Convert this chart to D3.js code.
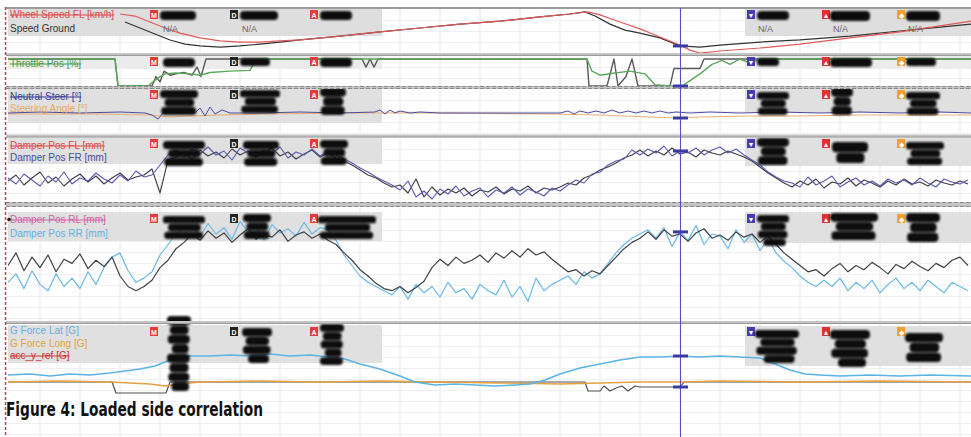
<!DOCTYPE html>
<html><head><meta charset="utf-8">
<script src="https://cdn.jsdelivr.net/npm/d3@7/dist/d3.min.js"></script>
<style>
html,body{margin:0;padding:0;background:#fff;overflow:hidden}
svg{display:block}
</style></head><body>
<svg id="chart" width="971" height="437"></svg>
<script>
// ---------------- DATA ----------------
// Panel 1: speed [km/h] vs distance [m]
const wheelSpeedDist = [120,135,150,165,180,200,220,240,260,280,300,340,380,420,460,500,540,570,588,600,620,640,660,680,690,700,720,760,800,850,900,940,971];
const wheelSpeedFL   = [234,225,199,173,151,130,117,112,112,117,121,138,156,173,190,203,221,234,243,230,199,169,134,99,77,64,73,86,103,130,156,182,203];
const groundSpeedDist= [125,140,155,170,185,200,220,240,260,280,300,340,380,420,460,500,540,570,585,595,610,625,640,660,680,700,720,760,800,850,900,940,971];
const speedGround    = [199,173,147,121,103,95,90,95,103,112,121,138,156,173,190,203,221,234,243,225,190,164,151,130,95,90,99,112,121,138,160,177,190];

// Panel 2: throttle [%]
const throttleDist   = [8,115,118,148,158,165,175,190,200,210,230,250,256,587,592,600,615,630,645,655,670,682,690,700,712,722,730,740,750,760,971];
const throttlePos    = [100,100,0,0,30,45,48,45,40,50,55,58,100,100,55,40,48,55,45,5,0,0,20,45,80,95,80,100,85,100,100];
const throttleRefDist= [8,115,118,152,156,160,164,170,176,184,192,197,201,206,362,366,370,374,378,587,589,607,614,618,626,632,638,670,674,700,704,971];
const throttleRef    = [100,100,0,0,35,15,55,40,45,50,40,70,35,100,100,70,100,70,100,100,0,0,100,0,35,100,0,0,65,65,100,100];

// Panel 3: neutral steer / steering angle [deg]
const neutralDist    = [8,40,80,120,145,152,158,163,170,178,186,195,200,205,210,215,222,230,260,300,340,375,380,385,390,395,400,410,420,440,480,520,560,568,574,580,588,596,604,612,620,628,636,644,652,660,668,676,690,710,740,780,820,860,900,940,971];
const neutralSteer   = [0,1,0,1,0,-2,-6,0,3,1,4,0,5,-3,6,-1,3,0,0,1,0,1,3,-1,3,0,2,0,1,0,0,0,0,2,-1,2,0,2,0,3,0,2,0,2,0,2,0,1,0,1,0,1,0,1,0,1,0];
const steerDist      = [8,100,150,170,190,220,260,350,450,550,600,650,680,700,750,800,850,900,971];
const steerAngle     = [-1,-1,-2,-4,-3,-2,-1,0,0,-1,-2,-4,-5,-4,-3,-3,-2,-2,-2];

// Panels 4-5: dampers [mm], sampled every 8 m from 8 m
const damperStart = 8, damperStep = 8;
const damperFL = [24,30,20,27,33,22,28,19,26,31,23,29,21,27,32,25,28,30,
 36,12,45,48,
 52,46,55,49,53,47,56,50,54,48,52,57,49,53,46,51,55,48,52,
 47,44,40,35,30,27,22,18,20,12,26,
 8,18,10,16,12,17,9,15,13,18,11,16,14,19,12,17,15,
 18,22,20,27,30,35,38,42,47,50,
 55,49,54,50,57,51,53,48,55,52,50,54,51,
 48,44,38,32,27,22,
 18,24,20,26,17,23,21,27,19,25,22,18,24,20,26,21,23,19,25,22,20,24,21];
const damperFR = [27,21,31,25,19,29,23,33,21,27,24,32,26,22,30,24,34,28,
 30,40,50,55,
 48,56,51,58,50,54,45,57,52,49,55,51,58,47,53,50,56,49,54,
 50,46,42,37,33,28,24,20,15,24,8,
 14,6,16,11,19,9,14,17,8,15,12,18,10,16,13,9,17,
 14,20,25,22,31,33,40,44,46,55,
 50,56,52,59,49,54,52,57,50,55,58,52,56,
 50,45,40,33,28,24,
 22,18,28,20,24,29,18,23,27,20,24,19,26,22,25,20,27,22,18,26,23,21,25];
const damperRL = [50,62,45,58,48,60,44,56,52,61,47,55,49,58,
 40,30,26,30,
 36,48,55,66,72,
 80,74,83,76,81,72,79,85,75,80,77,84,73,79,82,76,80,74,
 70,62,55,46,40,33,28,
 26,30,24,29,35,
 48,56,50,58,52,55,60,53,62,57,64,58,66,60,63,56,
 50,44,46,40,45,42,
 50,58,66,72,76,
 82,75,84,78,80,73,81,85,76,79,74,82,77,80,72,78,
 70,62,56,50,44,46,40,
 47,52,44,50,46,53,48,42,51,47,54,49,45,52,48,55,58,50];
const damperRR = [34,42,28,45,32,26,42,30,38,28,44,32,48,58,
 62,45,34,38,
 44,60,70,80,86,
 88,78,90,80,86,75,92,82,87,74,89,81,85,78,91,80,86,84,
 74,60,50,40,34,30,26,
 22,30,18,32,24,
 30,20,34,24,28,18,32,26,22,36,20,30,16,38,26,32,
 36,40,32,44,38,42,
 52,62,70,76,80,
 84,76,86,68,82,74,88,70,80,78,66,84,72,80,64,76,
 62,54,48,40,34,30,36,
 30,38,26,34,28,36,24,32,38,28,34,26,36,30,24,34,30,26];

// Panel 6: G forces [G]
const gLatDist  = [8,30,50,70,90,110,125,140,155,165,175,190,210,230,250,270,290,310,330,345,360,380,400,415,435,455,475,495,515,530,545,560,580,600,620,640,660,680,700,720,740,760,775,790,805,820,840,870,900,930,971];
const gForceLat = [0.35,0.4,0.3,0.4,0.35,0.45,0.55,0.65,0.8,1.0,1.2,1.3,1.3,1.35,1.3,1.4,1.3,1.35,1.25,1.15,0.9,0.65,0.3,0.0,-0.15,-0.1,-0.15,-0.2,-0.15,-0.1,0.1,0.4,0.7,0.9,1.1,1.25,1.25,1.3,1.25,1.3,1.25,1.2,0.9,0.6,0.4,0.35,0.3,0.35,0.3,0.35,0.3];
const gLongDist = [8,60,110,130,150,165,180,200,260,320,380,440,500,560,600,640,680,720,800,880,971];
const gForceLong= [0,0.05,0,-0.05,-0.1,-0.2,-0.1,0,0.05,0,0.05,0,-0.05,-0.1,-0.05,0,0,0.05,0,0.05,0];
const gLongRefDist = [8,112,116,166,170,585,588,600,604,610,616,622,628,635,640,680,684,971];
const gLongRef     = [0,0,-0.55,-0.55,0,0,-0.45,-0.45,-0.2,-0.45,-0.3,-0.2,-0.45,-0.2,-0.25,-0.25,0,0];

const cursorDist = 680;

// Legend labels
const legendLabels = [
  [["Wheel Speed FL [km/h]","#e04848",true],["Speed Ground","#333333",false]],
  [["Throttle Pos [%]","#4a9a4a",true]],
  [["Neutral Steer [°]","#3a3a9a",true],["Steering Angle [°]","#e8a860",false]],
  [["Damper Pos FL [mm]","#e04848",true],["Damper Pos FR [mm]","#4a4aa0",false]],
  [["Damper Pos RL [mm]","#d060a0",true],["Damper Pos RR [mm]","#60b0e0",false]],
  [["G Force Lat [G]","#60b0e0",false],["G Force Long [G]","#e0a040",false],["acc_y_ref [G]","#d03030",true]]
];
const leftMarkers  = [["M","#e53a3a"],["D","#222222"],["A","#e53a3a"]];
const rightMarkers = [["▼","#4a3ab0"],["▲","#e03030"],["◆","#f0a030"]];
const naText = "N/A";
const caption = "Figure 4: Loaded side correlation";

// ---------------- LAYOUT ----------------
const svg = d3.select("#chart");
const x = d3.scaleLinear().domain([0, 971]).range([0, 971]);

const panels = [
  {top:9,   bottom:53,  y:d3.scaleLinear().domain([60,260]).range([54,8]),     boxL:[9,27],   boxR:[9,27],   labelY:[18,32],      markY:10,  boxFill:"#dedede"},
  {top:56,  bottom:86,  y:d3.scaleLinear().domain([0,100]).range([86,59]),     boxL:[56,13],  boxR:[56,13],  labelY:[67],         markY:57,  boxFill:"#ececec"},
  {top:89,  bottom:134, y:d3.scaleLinear().domain([-20,20]).range([133,93]),   boxL:[89,34],  boxR:[89,24],  labelY:[100,112],    markY:90,  boxFill:"#e0e0e0"},
  {top:138, bottom:202, y:d3.scaleLinear().domain([0,65]).range([205,140]),    boxL:[138,26], boxR:[138,28], labelY:[149,161],    markY:139, boxFill:"#e0e0e0"},
  {top:208, bottom:321, y:d3.scaleLinear().domain([0,100]).range([318,213]),   boxL:[212,29], boxR:[212,31], labelY:[223,237],    markY:214, boxFill:"#e0e0e0"},
  {top:324, bottom:437, y:d3.scaleLinear().domain([-2.75,2.75]).range([437,327]), boxL:[325,38], boxR:[326,40], labelY:[334,347,359], markY:327, boxFill:"#e0e0e0"}
];

const redactions = [
  [[160,11,36,8],[240,11,38,8],[320,11,32,8],[757,11,32,8],[830,11,40,9],[906,11,34,9]],
  [[163,58,32,8],[240,58,30,7],[320,58,32,8],[757,58,22,7],[830,58,42,8],[906,58,30,7]],
  [[160,90,38,24],[240,90,40,22],[320,88,26,26],[757,92,32,22],[831,88,22,26],[906,92,34,22]],
  [[163,141,42,24],[243,141,36,24],[320,140,28,24],[757,138,32,26],[832,142,36,20],[906,142,38,22]],
  [[163,216,42,22],[243,214,28,24],[318,216,58,22],[757,215,32,30],[830,213,48,26],[906,213,34,28]],
  [[167,316,24,74],[242,328,30,34],[320,324,24,40],[755,330,44,32],[830,330,40,36],[905,333,38,28]]
];
const rowWidths = [1, 0.78, 0.92, 0.7, 0.95, 0.8, 0.88, 0.74, 1];
const rowShift  = [0, 0.12, 0.03, 0.2, 0.0, 0.1, 0.05, 0.18, 0];

const defs = svg.append("defs");
defs.append("filter").attr("id","blur").append("feGaussianBlur").attr("stdDeviation",1.1);
panels.forEach((p,i)=>{
  defs.append("clipPath").attr("id","clip"+i).append("rect")
    .attr("x",x(6)).attr("y",p.top).attr("width",x(971)-x(6)).attr("height",p.bottom-p.top);
});

// background
svg.append("rect").attr("width",971).attr("height",437).attr("fill","#ffffff");

// grid
const grid = svg.append("g");
const gridX = d3.range(40, 971, 40);
panels.forEach(p=>{
  grid.selectAll(null).data(gridX).enter().append("line")
    .attr("x1",d=>x(d)).attr("x2",d=>x(d)).attr("y1",p.top).attr("y2",p.bottom)
    .attr("stroke","#e6e6ea").attr("stroke-width",1);
  grid.selectAll(null).data(d3.range(p.top+11, p.bottom, 11)).enter().append("line")
    .attr("x1",x(6)).attr("x2",x(971)).attr("y1",d=>d+0.5).attr("y2",d=>d+0.5)
    .attr("stroke","#f0f0f2").attr("stroke-width",1);
});

// legend boxes
const boxes = svg.append("g");
panels.forEach(p=>{
  boxes.append("rect").attr("x",x(8)).attr("y",p.boxL[0]).attr("width",x(382)-x(8)).attr("height",p.boxL[1]).attr("fill",p.boxFill);
  boxes.append("rect").attr("x",x(745)).attr("y",p.boxR[0]).attr("width",x(971)-x(745)).attr("height",p.boxR[1]).attr("fill",p.boxFill);
});

// series
const damperDist = damperFL.map((_,i)=>damperStart + i*damperStep);
const series = [
  {p:0, xs:groundSpeedDist, vs:speedGround,  c:"#333333", w:1.2},
  {p:0, xs:wheelSpeedDist,  vs:wheelSpeedFL, c:"#e05a5a", w:1.2},
  {p:1, xs:throttleRefDist, vs:throttleRef,  c:"#5a5a5a", w:1.4},
  {p:1, xs:throttleDist,    vs:throttlePos,  c:"#5aa85a", w:1.4},
  {p:2, xs:steerDist,       vs:steerAngle,   c:"#e8b070", w:1.2},
  {p:2, xs:neutralDist,     vs:neutralSteer, c:"#4a4aa0", w:1.0},
  {p:3, xs:damperDist,      vs:damperFL,     c:"#3c3c46", w:1.1},
  {p:3, xs:damperDist,      vs:damperFR,     c:"#5a5ab0", w:1.1},
  {p:4, xs:damperDist,      vs:damperRR,     c:"#6ab8e6", w:1.2},
  {p:4, xs:damperDist,      vs:damperRL,     c:"#404048", w:1.2},
  {p:5, xs:gLongRefDist,    vs:gLongRef,     c:"#505050", w:1.2},
  {p:5, xs:gLongDist,       vs:gForceLong,   c:"#e6a040", w:1.4},
  {p:5, xs:gLatDist,        vs:gForceLat,    c:"#5ab4e4", w:1.6}
];
const lines = svg.append("g");
series.forEach(s=>{
  const p = panels[s.p];
  const line = d3.line().x(d=>x(d[0])).y(d=>p.y(d[1]));
  lines.append("path").attr("clip-path","url(#clip"+s.p+")")
    .attr("d", line(s.xs.map((d,i)=>[d, s.vs[i]])))
    .attr("fill","none").attr("stroke",s.c).attr("stroke-width",s.w).attr("stroke-linejoin","round");
});

// legend labels and markers
const leg = svg.append("g").attr("font-family","'Liberation Sans', Arial, sans-serif").attr("font-size",10);
panels.forEach((p,i)=>{
  legendLabels[i].forEach((l,j)=>{
    leg.append("text").attr("x",x(10)).attr("y",p.labelY[j]).attr("fill",l[1])
      .attr("text-decoration", l[2] ? "line-through" : null).text(l[0]);
  });
  [150,230,310].forEach((mx,k)=>{
    leg.append("rect").attr("x",x(mx)).attr("y",p.markY).attr("width",8).attr("height",9).attr("fill",leftMarkers[k][1]);
    leg.append("text").attr("x",x(mx)+4).attr("y",p.markY+7.5).attr("text-anchor","middle").attr("font-size",7).attr("font-weight","bold").attr("fill","#fff").text(leftMarkers[k][0]);
  });
  [747,822,897].forEach((mx,k)=>{
    leg.append("rect").attr("x",x(mx)).attr("y",p.markY).attr("width",8).attr("height",9).attr("fill",rightMarkers[k][1]);
    leg.append("text").attr("x",x(mx)+4).attr("y",p.markY+7.5).attr("text-anchor","middle").attr("font-size",7).attr("fill","#fff").text(rightMarkers[k][0]);
  });
});
leg.append("circle").attr("cx",x(9)).attr("cy",panels[4].labelY[0]-3.5).attr("r",1.8).attr("fill","#222");
[163,242,758,833,908].forEach(nx=>{
  leg.append("text").attr("x",x(nx)).attr("y",32).attr("font-size",9).attr("fill","#666").text(naText);
});

// redaction blobs (rows of smudges)
const red = svg.append("g").attr("filter","url(#blur)");
redactions.forEach(row=>row.forEach(r=>{
  const nRows = Math.max(1, Math.round((r[3]+2)/9));
  const rh = (r[3] - (nRows-1)*1.5)/nRows;
  for(let k=0;k<nRows;k++){
    const w = r[2]*rowWidths[k%rowWidths.length];
    const sx = r[0] + r[2]*rowShift[k%rowShift.length]*(nRows>1?1:0);
    red.append("rect").attr("x",sx).attr("y",r[1]+k*(rh+1.5)).attr("width",Math.min(w, r[0]+r[2]-sx))
      .attr("height",rh+1).attr("rx",Math.min(4,rh/2)).attr("fill","#111");
  }
}));

// separators
const sep = svg.append("g");
sep.append("rect").attr("x",x(6)).attr("y",7).attr("width",971).attr("height",2).attr("fill","#9c9c9c");
[[53,3,false],[86,3,true],[134.5,3,false],[202,5,true],[321,3,false]].forEach(s=>{
  sep.append("rect").attr("x",x(6)).attr("y",s[0]).attr("width",971).attr("height",s[1]).attr("fill","#c4c4c4");
  if(s[2]){
    sep.append("line").attr("x1",x(6)).attr("x2",971).attr("y1",s[0]+0.5).attr("y2",s[0]+0.5).attr("stroke","#8a8a8a").attr("stroke-dasharray","4,2");
    sep.append("line").attr("x1",x(6)).attr("x2",971).attr("y1",s[0]+s[1]-0.5).attr("y2",s[0]+s[1]-0.5).attr("stroke","#8a8a8a").attr("stroke-dasharray","4,2");
  } else {
    sep.append("line").attr("x1",x(6)).attr("x2",971).attr("y1",s[0]+s[1]-0.5).attr("y2",s[0]+s[1]-0.5).attr("stroke","#9a9a9a");
  }
});
// left border
sep.append("line").attr("x1",5.5).attr("x2",5.5).attr("y1",7).attr("y2",437).attr("stroke","#a05050").attr("stroke-width",1.5).attr("stroke-dasharray","3,2");

// cursor
function interp(xs, vs, d){
  const i = d3.bisectLeft(xs, d);
  if(i<=0) return vs[0]; if(i>=xs.length) return vs[vs.length-1];
  const t = (d-xs[i-1])/(xs[i]-xs[i-1]); return vs[i-1] + t*(vs[i]-vs[i-1]);
}
const cur = svg.append("g");
cur.append("line").attr("x1",x(cursorDist)+0.5).attr("x2",x(cursorDist)+0.5).attr("y1",8).attr("y2",437).attr("stroke","#5a4ec8").attr("stroke-width",1);
const curMarks = [
  [0, groundSpeedDist, speedGround],[1, throttleDist, throttlePos],[2, steerDist, steerAngle],
  [3, damperDist, damperFR],[4, damperDist, damperRR],[5, gLatDist, gForceLat],[5, gLongRefDist, gLongRef]
];
curMarks.forEach(m=>{
  const yy = panels[m[0]].y(interp(m[1], m[2], cursorDist));
  cur.append("rect").attr("x",x(cursorDist)-7).attr("y",yy-1.5).attr("width",15).attr("height",3).attr("fill","#3a3aa0");
});

// caption
svg.append("text").attr("x",6).attr("y",416)
  .attr("font-family","'Liberation Sans Narrow','DejaVu Sans Condensed','Arial Narrow',sans-serif")
  .attr("font-weight","bold").attr("font-size",19).attr("fill","#111")
  .attr("textLength",257).attr("lengthAdjust","spacingAndGlyphs").text(caption);
</script>
</body></html>
